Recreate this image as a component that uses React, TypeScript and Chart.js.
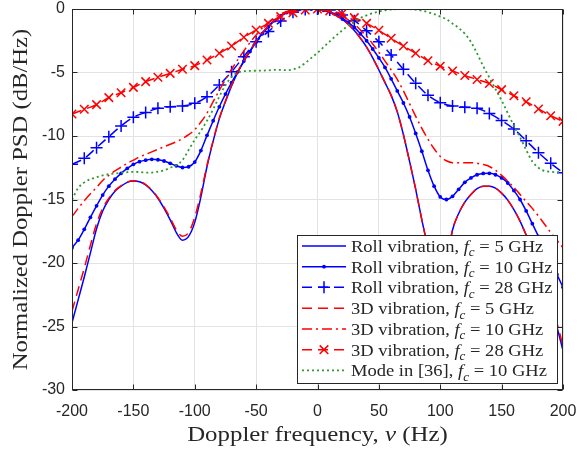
import { useEffect, useRef } from 'react';
import { Chart, registerables } from 'chart.js';
Chart.register(...registerables);

const freq5 = [
  -200, -195, -190, -185, -180, -175, -170, -165, -160, -155, -150, -145, -140, -135, -130, -125, -120, -115, -110, -105,
  -100, -95, -90, -85, -80, -75, -70, -65, -60, -55, -50, -45, -40, -35, -30, -25, -20, -15, -10, -5,
  0, 5, 10, 15, 20, 25, 30, 35, 40, 45, 50, 55, 60, 65, 70, 75, 80, 85, 90, 95,
  100, 105, 110, 115, 120, 125, 130, 135, 140, 145, 150, 155, 160, 165, 170, 175, 180, 185, 190, 195, 200,
];
const freq10 = [
  -200, -190, -180, -170, -160, -150, -140, -130, -120, -110, -100, -90, -80, -70, -60, -50, -40, -30, -20, -10,
  0, 10, 20, 30, 40, 50, 60, 70, 80, 90, 100, 110, 120, 130, 140, 150, 160, 170, 180, 190, 200,
];

const roll5GHz = [
  -24.7, -22.9, -21.1, -19.2, -17.3, -15.9, -15.0, -14.35, -13.95, -13.65, -13.55, -13.6, -13.85, -14.3, -14.9, -15.7, -16.6, -17.6, -18.2, -17.9,
  -16.8, -14.8, -12.4, -10.4, -8.65, -7.3, -6.05, -5.0, -4.1, -3.3, -2.55, -1.9, -1.35, -0.9, -0.55, -0.3, -0.13, -0.04, 0, 0,
  -0.04, -0.12, -0.27, -0.5, -0.8, -1.2, -1.7, -2.3, -3.0, -3.85, -4.8, -5.8, -6.8, -8.1, -9.9, -12.0, -14.2, -16.6, -18.8, -21.0,
  -22.0, -20.0, -17.4, -16.1, -15.2, -14.6, -14.15, -13.95, -13.95, -14.1, -14.5, -15.05, -15.8, -16.7, -17.8, -19.0, -20.3, -21.7, -23.2, -25.0, -26.9,
];
const roll10GHz = [
  -18.8, -18.2, -17.35, -16.4, -15.5, -14.65, -13.95, -13.4, -12.94, -12.55, -12.23, -12.02, -11.9, -11.84, -11.87, -11.97, -12.15, -12.35, -12.48, -12.42,
  -12.05, -11.15, -9.95, -8.8, -7.7, -6.7, -5.8, -4.95, -4.1, -3.35, -2.6, -1.95, -1.4, -0.92, -0.55, -0.28, -0.11, -0.03, 0, 0,
  -0.03, -0.1, -0.22, -0.42, -0.7, -1.05, -1.45, -1.95, -2.5, -3.15, -3.85, -4.6, -5.5, -6.45, -7.4, -8.5, -9.8, -11.2, -12.7, -13.95,
  -14.8, -15.0, -14.75, -14.2, -13.65, -13.3, -13.05, -12.95, -12.94, -13.05, -13.3, -13.7, -14.3, -15.0, -15.9, -16.9, -17.9, -18.9, -19.9, -20.9, -21.9,
];
const roll28GHz = [
  -12.23, -11.76, -10.92, -10.05, -9.21, -8.53, -8.14, -7.82, -7.69, -7.64, -7.43, -6.9, -5.98, -4.94, -3.75, -2.57, -1.78, -0.95, -0.25, -0.03,
  0, -0.08, -0.47, -0.92, -1.71, -2.57, -3.62, -4.75, -5.85, -6.8, -7.38, -7.64, -7.74, -7.82, -8.22, -8.78, -9.45, -10.37, -11.31, -12.15, -12.89,
];
const vib3d5GHz = [
  -23.8, -22.1, -20.4, -18.6, -16.9, -15.7, -14.9, -14.3, -13.92, -13.63, -13.53, -13.58, -13.82, -14.25, -14.85, -15.6, -16.45, -17.4, -17.9, -17.6,
  -16.4, -14.5, -12.3, -10.35, -8.6, -7.25, -6.0, -4.95, -4.08, -3.28, -2.54, -1.9, -1.35, -0.9, -0.55, -0.3, -0.13, -0.04, 0, 0,
  -0.04, -0.12, -0.27, -0.5, -0.8, -1.2, -1.7, -2.3, -3.0, -3.85, -4.8, -5.8, -6.8, -8.1, -9.9, -12.0, -14.2, -16.6, -18.8, -21.0,
  -22.0, -20.0, -17.4, -16.1, -15.2, -14.6, -14.15, -13.95, -13.95, -14.1, -14.5, -15.05, -15.8, -16.7, -17.8, -19.0, -20.3, -21.6, -23.0, -24.7, -26.5,
];
const vib3d10GHz = [
  -16.35, -15.7, -15.1, -14.55, -14.05, -13.5, -13.1, -12.75, -12.45, -12.15, -11.9, -11.65, -11.45, -11.25, -11.05, -10.85, -10.65, -10.45, -10.2, -9.9,
  -9.5, -8.9, -8.2, -7.3, -6.4, -5.55, -4.75, -4.0, -3.3, -2.65, -2.05, -1.5, -1.05, -0.68, -0.4, -0.2, -0.08, -0.02, 0, 0,
  -0.02, -0.08, -0.18, -0.33, -0.55, -0.85, -1.2, -1.65, -2.15, -2.75, -3.4, -4.1, -4.8, -5.55, -6.45, -7.45, -8.45, -9.4, -10.25, -11.0,
  -11.6, -11.95, -12.1, -12.1, -12.1, -12.1, -12.15, -12.25, -12.4, -12.7, -13.1, -13.55, -14.05, -14.6, -15.15, -15.7, -16.3, -16.95, -17.6, -18.2, -18.8,
];
const vib3d28GHz = [
  -8.27, -7.9, -7.53, -6.98, -6.59, -6.17, -5.72, -5.38, -5.07, -4.75, -4.46, -4.02, -3.49, -2.91, -2.23, -1.65, -1.13, -0.6, -0.29, -0.08,
  0, -0.15, -0.36, -0.68, -1.13, -1.68, -2.31, -2.92, -3.49, -4.07, -4.5, -4.88, -5.23, -5.55, -5.87, -6.35, -6.83, -7.3, -7.87, -8.4, -8.85,
];
const mode36 = [
  -15.0, -14.1, -13.65, -13.4, -13.25, -13.1, -13.0, -12.95, -12.9, -12.85, -12.82, -12.84, -12.88, -12.88, -12.8, -12.7, -12.5, -12.3, -11.9, -11.1,
  -10.3, -9.6, -8.8, -7.9, -6.9, -6.0, -5.35, -5.0, -4.9, -4.87, -4.86, -4.85, -4.83, -4.8, -4.8, -4.82, -4.75, -4.6, -4.25, -3.85,
  -3.45, -3.0, -2.55, -2.1, -1.7, -1.3, -1.0, -0.7, -0.5, -0.33, -0.2, -0.1, -0.04, -0.01, 0, -0.01, -0.05, -0.13, -0.25, -0.4,
  -0.6, -0.8, -1.15, -1.5, -1.95, -2.6, -3.5, -4.5, -5.4, -6.3, -7.2, -8.2, -9.2, -10.1, -11.1, -12.0, -12.5, -12.75, -12.82, -12.85, -12.85,
];

const xTicks = [-200, -150, -100, -50, 0, 50, 100, 150, 200];
const yTicks = [-30, -25, -20, -15, -10, -5, 0];
const legendNames = ['Roll vibration, ', 'Roll vibration, ', 'Roll vibration, ', '3D vibration, ', '3D vibration, ', '3D vibration, ', 'Mode in [36], '];
const legendFreqs = ['5 GHz', '10 GHz', '28 GHz', '5 GHz', '10 GHz', '28 GHz', '10 GHz'];

const BLUE = '#0000ff';
const RED = '#ff0000';
const GREEN = '#2f9a2f';
const AXIS = '#262626';
const SERIF = '"Liberation Serif", "Times New Roman", serif';

type Seg = { t: string; it?: boolean; sub?: boolean };

function drawRich(
  ctx: CanvasRenderingContext2D,
  segs: Seg[],
  x: number,
  y: number,
  size: number,
  align: 'left' | 'center',
  stretch: number,
) {
  const fontOf = (s: Seg) => `${s.it ? 'italic ' : ''}${s.sub ? Math.round(size * 0.72) : size}px ${SERIF}`;
  let total = 0;
  for (const s of segs) {
    ctx.font = fontOf(s);
    total += ctx.measureText(s.t).width;
  }
  total *= stretch;
  const startX = align === 'center' ? x - total / 2 : x;
  ctx.save();
  ctx.translate(startX, y);
  ctx.scale(stretch, 1);
  ctx.textAlign = 'left';
  ctx.textBaseline = 'alphabetic';
  let cx = 0;
  for (const s of segs) {
    ctx.font = fontOf(s);
    ctx.fillText(s.t, cx, s.sub ? size * 0.25 : 0);
    cx += ctx.measureText(s.t).width;
  }
  ctx.restore();
}

function pts(xs: number[], ys: number[]) {
  return xs.map((x, i) => ({ x, y: ys[i] }));
}

const styles = [
  { color: BLUE, dash: [] as number[], marker: 'none' },
  { color: BLUE, dash: [], marker: 'dot' },
  { color: BLUE, dash: [10, 6], marker: 'plus' },
  { color: RED, dash: [10, 6], marker: 'none' },
  { color: RED, dash: [10, 4, 2, 4], marker: 'none' },
  { color: RED, dash: [10, 6], marker: 'x' },
  { color: GREEN, dash: [2, 3], marker: 'none' },
];

const overlay = {
  id: 'overlay',
  afterDraw(chart: any) {
    const ctx: CanvasRenderingContext2D = chart.ctx;
    const { left, right, top, bottom } = chart.chartArea;
    const xs = chart.scales.x;
    const ys = chart.scales.y;
    ctx.save();
    ctx.strokeStyle = AXIS;
    ctx.lineWidth = 1;
    ctx.setLineDash([]);
    const L = Math.round(left) + 0.5, R = Math.round(right) - 0.5, T = Math.round(top) + 0.5, B = Math.round(bottom) - 0.5;
    ctx.strokeRect(L, T, R - L, B - T);
    ctx.beginPath();
    for (const v of xTicks) {
      const p = Math.round(xs.getPixelForValue(v)) + 0.5;
      ctx.moveTo(p, B); ctx.lineTo(p, B - 5);
      ctx.moveTo(p, T); ctx.lineTo(p, T + 5);
    }
    for (const v of yTicks) {
      const p = Math.round(ys.getPixelForValue(v)) + 0.5;
      ctx.moveTo(L, p); ctx.lineTo(L + 5, p);
      ctx.moveTo(R, p); ctx.lineTo(R - 5, p);
    }
    ctx.stroke();

    ctx.fillStyle = AXIS;
    drawRich(ctx, [{ t: 'Doppler frequency, ' }, { t: 'ν', it: true }, { t: ' (Hz)' }], (left + right) / 2, 441, 22, 'center', 1.13);
    ctx.save();
    ctx.translate(27, (top + bottom) / 2);
    ctx.rotate(-Math.PI / 2);
    drawRich(ctx, [{ t: 'Normalized Doppler PSD (dB/Hz)' }], 0, 0, 22, 'center', 1.12);
    ctx.restore();

    const bx = 297.5, by = 235.5, bw = 260, bh = 148;
    ctx.fillStyle = '#ffffff';
    ctx.fillRect(bx, by, bw, bh);
    ctx.strokeStyle = AXIS;
    ctx.lineWidth = 1;
    ctx.strokeRect(bx, by, bw, bh);
    const rowY = [246, 266.7, 287.3, 308.3, 329, 349.7, 370.3];
    styles.forEach((st, i) => {
      const yy = rowY[i];
      ctx.strokeStyle = st.color;
      ctx.lineWidth = i === 6 ? 1.8 : 1.5;
      ctx.setLineDash(st.dash);
      ctx.beginPath();
      ctx.moveTo(302, yy); ctx.lineTo(346, yy);
      ctx.stroke();
      ctx.setLineDash([]);
      const mx = 324;
      if (st.marker === 'dot') {
        ctx.fillStyle = st.color;
        ctx.beginPath(); ctx.arc(mx, yy, 1.9, 0, Math.PI * 2); ctx.fill();
      } else if (st.marker === 'plus') {
        ctx.beginPath();
        ctx.moveTo(mx - 6, yy); ctx.lineTo(mx + 6, yy);
        ctx.moveTo(mx, yy - 6); ctx.lineTo(mx, yy + 6);
        ctx.stroke();
      } else if (st.marker === 'x') {
        ctx.beginPath();
        ctx.moveTo(mx - 4.3, yy - 4.3); ctx.lineTo(mx + 4.3, yy + 4.3);
        ctx.moveTo(mx - 4.3, yy + 4.3); ctx.lineTo(mx + 4.3, yy - 4.3);
        ctx.stroke();
      }
      ctx.fillStyle = AXIS;
      drawRich(ctx, [
        { t: legendNames[i] },
        { t: 'f', it: true },
        { t: 'c', it: true, sub: true },
        { t: ' = ' + legendFreqs[i] },
      ], 351, yy + 6, 17, 'left', 1.09);
    });
    ctx.restore();
  },
};

export default function App() {
  const ref = useRef<HTMLCanvasElement | null>(null);
  useEffect(() => {
    document.body.style.margin = '0';
    const canvas = ref.current!;
    const series = [
      pts(freq5, roll5GHz),
      pts(freq5, roll10GHz),
      pts(freq10, roll28GHz),
      pts(freq5, vib3d5GHz),
      pts(freq5, vib3d10GHz),
      pts(freq10, vib3d28GHz),
      pts(freq5, mode36),
    ];
    const datasets = series.map((data, i) => {
      const st = styles[i];
      const base: any = {
        label: String(i),
        data,
        borderColor: st.color,
        backgroundColor: st.color,
        borderWidth: i === 6 ? 1.8 : 1.5,
        borderDash: st.dash,
        fill: false,
        tension: 0,
        cubicInterpolationMode: 'monotone',
        pointRadius: 0,
        order: 10 - i,
      };
      if (st.marker === 'dot') {
        base.pointRadius = 1.9;
        base.pointStyle = 'circle';
        base.pointBackgroundColor = st.color;
        base.pointBorderWidth = 0;
      } else if (st.marker === 'plus') {
        base.pointRadius = 6;
        base.pointStyle = 'cross';
        base.pointBorderColor = st.color;
        base.pointBorderWidth = 1.5;
      } else if (st.marker === 'x') {
        base.pointRadius = 6;
        base.pointStyle = 'crossRot';
        base.pointBorderColor = st.color;
        base.pointBorderWidth = 1.5;
      }
      return base;
    });
    const chart = new Chart(canvas, {
      type: 'line',
      data: { datasets },
      options: {
        animation: false,
        responsive: false,
        devicePixelRatio: 1,
        layout: { padding: { left: 0, top: 9, right: 16, bottom: 0 } },
        plugins: { legend: { display: false }, tooltip: { enabled: false } },
        events: [],
        scales: {
          x: {
            type: 'linear',
            min: -200,
            max: 200,
            afterFit: (s: any) => { s.height = 60; s.paddingLeft = 0; s.paddingRight = 0; },
            afterBuildTicks: (s: any) => { s.ticks = xTicks.map((v) => ({ value: v })); },
            grid: { color: '#e3e3e3', lineWidth: 1, drawTicks: false },
            border: { display: false },
            ticks: {
              padding: 12,
              color: AXIS,
              font: { family: '"Liberation Sans", Arial, sans-serif', size: 16 },
              maxRotation: 0,
              callback: (v: any) => String(v),
            },
          },
          y: {
            type: 'linear',
            min: -30,
            max: 0,
            afterFit: (s: any) => { s.width = 72; s.paddingTop = 0; s.paddingBottom = 0; },
            afterBuildTicks: (s: any) => { s.ticks = yTicks.map((v) => ({ value: v })); },
            grid: { color: '#e3e3e3', lineWidth: 1, drawTicks: false },
            border: { display: false },
            ticks: {
              padding: 7,
              color: AXIS,
              font: { family: '"Liberation Sans", Arial, sans-serif', size: 16 },
              callback: (v: any) => String(v),
            },
          },
        },
      },
      plugins: [overlay],
    });
    return () => chart.destroy();
  }, []);
  return (
    <div style={{ width: 579, height: 450 }}>
      <canvas ref={ref} width={579} height={450} style={{ display: 'block' }} />
    </div>
  );
}
